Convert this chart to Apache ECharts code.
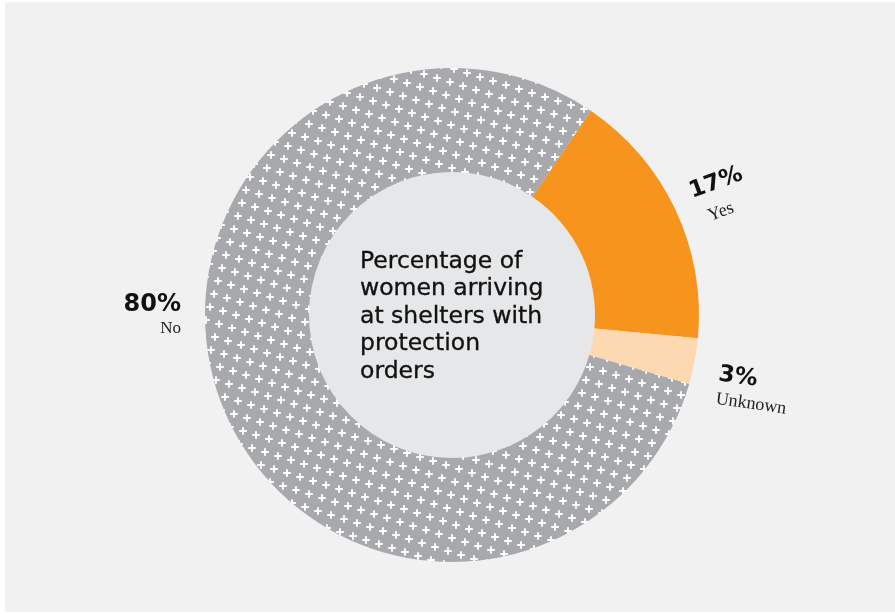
<!DOCTYPE html>
<html>
<head>
<meta charset="utf-8">
<script src="https://cdn.jsdelivr.net/npm/echarts@6/dist/echarts.min.js"></script>
<style>
html,body{margin:0;padding:0;background:#ffffff;}
#chart{position:absolute;left:5px;top:2px;width:890px;height:610px;}
</style>
</head>
<body>
<div id="chart"></div>
<script>
// Data
const categories = ['Yes', 'Unknown', 'No'];
const values = [17, 3, 80];
const centerTitle = 'Percentage of\nwomen arriving\nat shelters with\nprotection\norders';

// Pattern for "No" slice: upright white crosses on a slightly tilted lattice
function makePattern() {
  const s = 185; // period of lattice generated by (13,4) and (-4,13)
  const c = document.createElement('canvas');
  c.width = s; c.height = s;
  const ctx = c.getContext('2d');
  ctx.fillStyle = '#a7a9ac';
  ctx.fillRect(0, 0, s, s);
  ctx.strokeStyle = '#ffffff';
  ctx.lineWidth = 1.9;
  const a = 3.8;
  ctx.beginPath();
  for (let i = 0; i < s; i++) {
    const px = (13 * i) % s, py = (4 * i) % s;
    for (let ox = -1; ox <= 1; ox++) {
      for (let oy = -1; oy <= 1; oy++) {
        const x = px + ox * s, y = py + oy * s;
        if (x < -8 || x > s + 8 || y < -8 || y > s + 8) continue;
        ctx.moveTo(x - a, y); ctx.lineTo(x + a, y);
        ctx.moveTo(x, y - a); ctx.lineTo(x, y + a);
      }
    }
  }
  ctx.stroke();
  return c;
}

const colors = ['#f7941d', '#fdd9b1', { image: makePattern(), repeat: 'repeat' }];

const chart = echarts.init(document.getElementById('chart'), null, { renderer: 'canvas' });

const pct = v => v + '%';
const sansBold = 'bold 24px "DejaVu Sans", sans-serif';
const sansBoldS = 'bold 23px "DejaVu Sans", sans-serif';
const serif = '"Liberation Serif", serif';

chart.setOption({
  backgroundColor: '#f1f1f1',
  animation: false,
  series: [
    {
      type: 'pie',
      center: [447, 313],
      radius: [0, 143],
      silent: true,
      z: 1,
      label: { show: false },
      labelLine: { show: false },
      data: [{ value: 1, itemStyle: { color: '#e6e7e8' } }]
    },
    {
      type: 'pie',
      center: [447, 313],
      radius: [143, 247],
      startAngle: 55.8,
      clockwise: true,
      silent: true,
      z: 1,
      label: { show: false },
      labelLine: { show: false },
      itemStyle: { borderWidth: 0 },
      data: categories.map((n, i) => ({ name: n, value: values[i], itemStyle: { color: colors[i] } }))
    }
  ],
  graphic: [
    { type: 'text', z: 100, x: 355, y: 246, style: { text: centerTitle, font: '23.5px "DejaVu Sans", sans-serif', fill: '#111', stroke: '#111', lineWidth: 0.35, lineHeight: 27.5 } },
    { type: 'text', z: 100, x: 711, y: 181, rotation: 20 * Math.PI / 180, style: { text: pct(values[0]), font: sansBoldS, fill: '#111', align: 'center', verticalAlign: 'middle' } },
    { type: 'text', z: 100, x: 716, y: 210, rotation: 20 * Math.PI / 180, style: { text: categories[0], font: '18px ' + serif, fill: '#222', align: 'center', verticalAlign: 'middle' } },
    { type: 'text', z: 100, x: 733, y: 375, rotation: -8 * Math.PI / 180, style: { text: pct(values[1]), font: sansBoldS, fill: '#111', align: 'center', verticalAlign: 'middle' } },
    { type: 'text', z: 100, x: 746, y: 402, rotation: -8 * Math.PI / 180, style: { text: categories[1], font: '18px ' + serif, fill: '#222', align: 'center', verticalAlign: 'middle' } },
    { type: 'text', z: 100, x: 176, y: 303, style: { text: pct(values[2]), font: sansBold, fill: '#111', align: 'right', verticalAlign: 'middle' } },
    { type: 'text', z: 100, x: 176, y: 327, style: { text: categories[2], font: '17px ' + serif, fill: '#222', align: 'right', verticalAlign: 'middle' } }
  ]
});
</script>
</body>
</html>
